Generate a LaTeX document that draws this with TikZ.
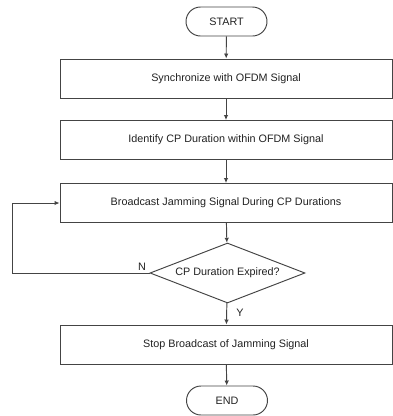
\documentclass[tikz,border=0pt]{standalone}
\usepackage{fontspec}
\setmainfont{Liberation Sans}
\usetikzlibrary{shapes.geometric,arrows.meta}
\definecolor{linegray}{HTML}{444444}
\definecolor{inkgray}{HTML}{222222}
\tikzset{
  base/.style={draw=linegray, line width=0.95pt, text=inkgray, inner sep=0pt,
    font=\fontsize{10.8}{12}\selectfont},
  procbox/.style={base, rectangle, minimum width=332pt, minimum height=39pt},
  terminal/.style={base, rectangle, rounded corners=14.5pt, minimum width=81pt, minimum height=29pt},
  decision/.style={base, diamond, aspect=2.58, minimum width=155pt, minimum height=60pt},
  flow/.style={draw=linegray, line width=0.95pt, -{Latex[length=5pt,width=4.5pt]}},
  tag/.style={text=inkgray, inner sep=0pt, font=\fontsize{10.8}{12}\selectfont}
}
\begin{document}
\begin{tikzpicture}[x=1pt,y=-1pt]
\useasboundingbox[fill=white] (0,0) rectangle (393,416);

\node[terminal] (start) at (226.5,21.5) {START};
\node[procbox]  (sync)  at (226,78.5)  {Synchronize with OFDM Signal};
\node[procbox]  (ident) at (226,140)   {Identify CP Duration within OFDM Signal};
\node[procbox]  (jam)   at (226,203)   {Broadcast Jamming Signal During CP Durations};
\node[decision] (exp)   at (227.5,273) {CP Duration Expired?};
\node[procbox]  (stop)  at (226,344.5) {Stop Broadcast of Jamming Signal};
\node[terminal] (end)   at (227,400.5) {END};

\draw[flow] (start) -- (sync);
\draw[flow] (sync) -- (ident);
\draw[flow] (ident) -- (jam);
\draw[flow] (jam) -- (exp);
\draw[flow] (exp) -- (stop);
\draw[flow] (stop) -- (end);

% "no" branch loops back to the broadcast step
\coordinate (loopc) at (12,273);
\draw[flow] (exp.west) -- (loopc) |- (jam.west);

\node[tag] (nlab) at (142,267) {N};
\node[tag] (ylab) at (240,313) {Y};
\end{tikzpicture}
\end{document}
